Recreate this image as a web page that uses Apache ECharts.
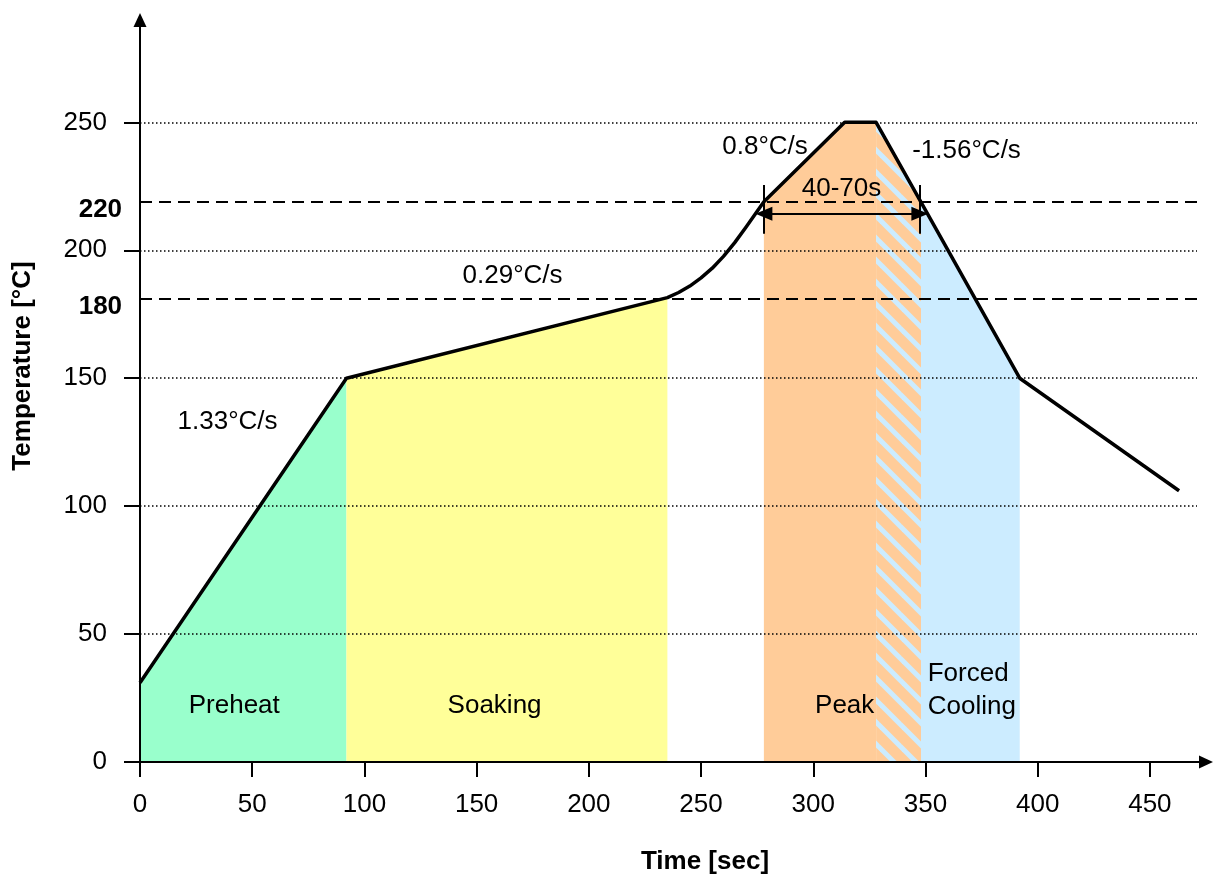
<!DOCTYPE html>
<html><head><meta charset="utf-8">
<script src="https://cdn.jsdelivr.net/npm/echarts@6/dist/echarts.min.js"></script>
<style>html,body{margin:0;padding:0;background:#fff}#chart{width:1219px;height:882px}</style>
</head><body><div id="chart"></div>
<script>
// ---- data ----
const profile = [[0,31],[92,150],[235,181.5],[240,183.5],[245,186],[250,189.2],[255,193],[260,197.6],[265,203],[270,209],[274,214],[278,219],[314,250],[328,250],[348,218.8],[392,150],[463,106]];
const stageNames = ['Preheat','Soaking','Peak','Peak / Cooling overlap','Forced Cooling'];
const stageStarts = [0,92,278,328,348];
const stageEnds = [92,235,328,348,392];
const phaseLabels = ['Preheat','Soaking','Peak','Forced\nCooling'];
const phaseLabelX = [42,158,314,351];
const phaseLabelY = [22,22,22,28];
const rateLabels = ['1.33°C/s','0.29°C/s','0.8°C/s','-1.56°C/s','40-70s'];
const rateLabelX = [39,166,278.5,368.3,312.6];
const rateLabelY = [133,190,240.3,239,224];
const windowStart = 278, windowEnd = 347.5, windowArrowY = 214.3;
const windowMarkerLow = 206.5, windowMarkerHigh = 225.5;
const xTicks = [0,50,100,150,200,250,300,350,400,450];
const yTicks = [0,50,100,150,200,250];
const criticalLabels = ['180','220'];
const criticalLineY = [181.2,218.8];
const criticalLabelY = [178,215.7];
const criticalLabelX = -8;
const xMax = 475, yMax = 290, gridlineEnd = 471;
const xTitle = 'Time [sec]', yTitle = 'Temperature [°C]';

// ---- styling ----
const FONT = '"Liberation Sans", Arial, sans-serif';
const FS = 26;
function makeHatch(){
  const c = document.createElement('canvas'); c.width = 22; c.height = 22;
  const g = c.getContext('2d');
  g.fillStyle = '#FFCC99'; g.fillRect(0,0,22,22);
  g.strokeStyle = '#CCECFF'; g.lineWidth = 5;
  for (const k of [-22,0,22]) { g.beginPath(); g.moveTo(k-6,-6); g.lineTo(k+28,28); g.stroke(); }
  return c;
}
const stageFills = ['#99FFCC','#FFFF99','#FFCC99',{image: makeHatch(), repeat:'repeat'},'#CCECFF'];

const stageSeries = stageNames.map((name,i)=>({
  name, type:'line', silent:true, z:1, symbol:'none',
  lineStyle:{width:0, opacity:0},
  areaStyle:{color: stageFills[i], opacity:1},
  data: profile.filter(p=>p[0]>=stageStarts[i] && p[0]<=stageEnds[i])
}));

const gridlineSeries = {
  name:'gridlines', type:'line', data:[], z:3, silent:true,
  markLine:{silent:true, symbol:['none','none'], animation:false,
    label:{show:false},
    lineStyle:{color:'#000', width:1.5, type:[1.5,2.5]},
    data: yTicks.filter(v=>v>0).map(v=>[{coord:[0,v]},{coord:[gridlineEnd,v]}])
  }
};
const criticalSeries = {
  name:'critical', type:'line', data:[], z:3, silent:true,
  markLine:{silent:true, symbol:['none','none'], animation:false, label:{show:false},
    lineStyle:{color:'#000', width:2, type:[12,7]},
    data: criticalLineY.map(v=>[{coord:[0,v]},{coord:[gridlineEnd,v]}])
  }
};
const profileSeries = {
  name:'profile', type:'line', z:5, symbol:'none', silent:true,
  lineStyle:{color:'#000', width:3.5, join:'round'},
  data: profile
};
const windowMarkerSeries = {
  name:'window markers', type:'line', data:[], z:6, silent:true,
  markLine:{silent:true, symbol:['none','none'], animation:false, label:{show:false},
    lineStyle:{color:'#000', width:2, type:'solid'},
    data:[[{coord:[windowStart,windowMarkerLow]},{coord:[windowStart,windowMarkerHigh]}],
          [{coord:[windowEnd,windowMarkerLow]},{coord:[windowEnd,windowMarkerHigh]}]]
  }
};
const windowArrowSeries = {
  name:'window arrow', type:'line', data:[], z:6, silent:true,
  markLine:{silent:true, symbol:['triangle','triangle'], symbolSize:[14,17], animation:false, label:{show:false},
    lineStyle:{color:'#000', width:2, type:'solid'},
    data:[[{coord:[windowStart,windowArrowY]},{coord:[windowEnd,windowArrowY]}]]
  }
};

function textSeries(name, texts, xs, ys, styleFn){
  return {
    name, type:'custom', coordinateSystem:'cartesian2d', silent:true, z:8, clip:false,
    data: xs.map((x,i)=>[x, ys[i]]),
    renderItem:(params, api)=>{
      const i = params.dataIndex;
      const pt = api.coord([api.value(0), api.value(1)]);
      return {type:'text', x:pt[0], y:pt[1], silent:true,
        style:Object.assign({text:texts[i], fill:'#000', font:FS+'px '+FONT, textAlign:'center', textVerticalAlign:'middle'}, styleFn(texts[i], i))};
    }
  };
}
const phaseLabelSeries = textSeries('phase labels', phaseLabels, phaseLabelX, phaseLabelY, t=>({
  textAlign: t.indexOf('\n')>=0 ? 'left' : 'center', lineHeight:33,
  shadowColor:'rgba(0,0,0,0.35)', shadowOffsetX:1, shadowOffsetY:1, shadowBlur:0
}));
const rateLabelSeries = textSeries('rate labels', rateLabels, rateLabelX, rateLabelY, ()=>({}));
const criticalLabelSeries = textSeries('critical labels', criticalLabels, criticalLabels.map(()=>criticalLabelX), criticalLabelY, ()=>({
  textAlign:'right', font:'bold '+FS+'px '+FONT
}));

const axisCommon = {
  type:'value', z:10,
  axisLine:{show:true, onZero:false, lineStyle:{color:'#000', width:2}, symbol:['none','triangle'], symbolSize:[13,14]},
  splitLine:{show:false}
};
const option = {
  animation:false,
  textStyle:{fontFamily:FONT},
  grid:{left:140, right:13, top:20, bottom:120, outerBoundsMode:'none', containLabel:false},
  xAxis:Object.assign({}, axisCommon, {min:0, max:xMax,
    axisTick:{show:true, length:15, lineStyle:{color:'#000', width:2}, customValues:xTicks},
    axisLabel:{customValues:xTicks, fontSize:FS, color:'#000', margin:30, fontFamily:FONT}}),
  yAxis:Object.assign({}, axisCommon, {min:0, max:yMax,
    axisTick:{show:true, length:16, lineStyle:{color:'#000', width:2}, customValues:yTicks},
    axisLabel:{customValues:yTicks, fontSize:FS, color:'#000', margin:33, fontFamily:FONT}}),
  graphic:[
    {type:'text', x:705, y:862, silent:true, style:{text:xTitle, font:'bold '+FS+'px '+FONT, fill:'#000', textAlign:'center', textVerticalAlign:'middle'}},
    {type:'text', x:23, y:366, rotation:Math.PI/2, silent:true, style:{text:yTitle, font:'bold '+FS+'px '+FONT, fill:'#000', textAlign:'center', textVerticalAlign:'middle'}}
  ],
  series: stageSeries.concat([gridlineSeries, criticalSeries, profileSeries, windowMarkerSeries, windowArrowSeries, phaseLabelSeries, rateLabelSeries, criticalLabelSeries])
};
const chart = echarts.init(document.getElementById('chart'), null, {renderer:'canvas'});
chart.setOption(option);
</script>
</body></html>
